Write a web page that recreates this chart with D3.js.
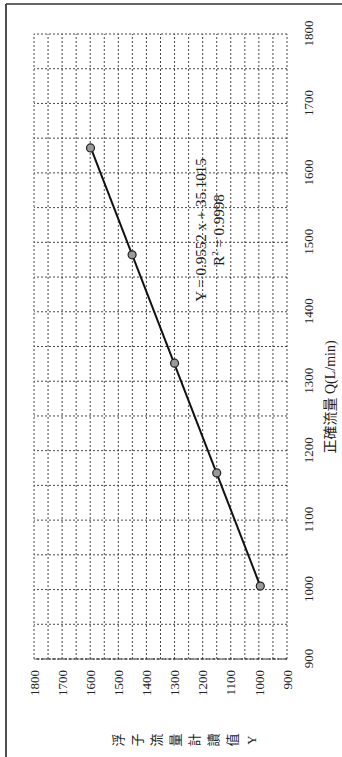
<!DOCTYPE html>
<html>
<head>
<meta charset="utf-8">
<script src="https://cdn.jsdelivr.net/npm/d3@7"></script>
<style>
  body { margin: 0; background: #fff; }
  text { font-family: "Liberation Serif", "Noto Sans CJK TC", serif; fill: #222; }
</style>
</head>
<body>
<div id="chart"></div>
<script>
const trueFlow = [1005, 1168, 1326, 1482, 1636];     // Q (L/min)
const meterReading = [995, 1150, 1300, 1451, 1599];  // Y
const xTicks = [900, 1000, 1100, 1200, 1300, 1400, 1500, 1600, 1700, 1800];
const yTicks = [900, 1000, 1100, 1200, 1300, 1400, 1500, 1600, 1700, 1800];
const slope = 0.9552;
const intercept = 35.1015;
const rSquared = 0.9998;
const xTitle = "正確流量 Q(L/min)";
const yTitle = ["浮", "子", "流", "量", "計", "讀", "值", "Y"];

const width = 342;
const height = 757;

const svg = d3.select("#chart")
  .append("svg")
  .attr("width", width)
  .attr("height", height);

// page frame from the scan
svg.append("line").attr("x1", 6).attr("y1", 4).attr("x2", 6).attr("y2", height)
  .attr("stroke", "#222").attr("stroke-width", 1.6);
svg.append("line").attr("x1", 6).attr("y1", 4).attr("x2", width).attr("y2", 4)
  .attr("stroke", "#333").attr("stroke-width", 1.4);

// chart was printed sideways, so draw it upright and turn the group
const g = svg.append("g")
  .attr("transform", `translate(0,${height}) rotate(-90)`);

const x = d3.scaleLinear().domain([900, 1800]).range([98, 723]);
const y = d3.scaleLinear().domain([900, 1800]).range([287, 34]);

// dotted grid every 50
const grid = g.append("g").attr("stroke", "#333").attr("stroke-width", 0.9)
  .attr("stroke-dasharray", "2,2");
grid.selectAll(".vx")
  .data(x.ticks(18))
  .enter()
  .append("line")
  .attr("x1", (d) => x(d)).attr("x2", (d) => x(d))
  .attr("y1", y(900)).attr("y2", y(1800));
grid.selectAll(".hy")
  .data(y.ticks(18))
  .enter()
  .append("line")
  .attr("x1", x(900)).attr("x2", x(1800))
  .attr("y1", (d) => y(d)).attr("y2", (d) => y(d));

// y axis line a bit heavier
g.append("line")
  .attr("x1", x(900)).attr("x2", x(900))
  .attr("y1", y(900)).attr("y2", y(1800))
  .attr("stroke", "#222").attr("stroke-width", 1.2)
  .attr("stroke-dasharray", "4,1.5");

const xAxis = g.append("g")
  .attr("transform", `translate(0,${y(900)})`)
  .call(d3.axisBottom(x).tickValues(xTicks).tickFormat(d3.format("d")).tickSize(0).tickPadding(17));
const yAxis = g.append("g")
  .attr("transform", `translate(${x(900)},0)`)
  .call(d3.axisLeft(y).tickValues(yTicks).tickFormat(d3.format("d")).tickSize(0).tickPadding(11));
[xAxis, yAxis].forEach((a) => {
  a.select(".domain").remove();
  a.selectAll("text")
    .style("font-family", "Liberation Serif")
    .style("font-size", "13px")
    .style("fill", "#222");
});

// fitted line between the first and last point
const xMin = d3.min(trueFlow);
const xMax = d3.max(trueFlow);
g.append("line")
  .attr("x1", x(xMin)).attr("y1", y(slope * xMin + intercept))
  .attr("x2", x(xMax)).attr("y2", y(slope * xMax + intercept))
  .attr("stroke", "#111")
  .attr("stroke-width", 2);

g.selectAll(".pt")
  .data(trueFlow)
  .enter()
  .append("circle")
  .attr("cx", (d) => x(d))
  .attr("cy", (d, i) => y(meterReading[i]))
  .attr("r", 4)
  .attr("fill", "#999")
  .attr("stroke", "#222")
  .attr("stroke-width", 1.2);

// regression text
g.append("text")
  .attr("x", 527).attr("y", 206)
  .attr("text-anchor", "middle")
  .style("font-size", "15px")
  .text(`Y = ${slope} x + ${intercept}`);
g.append("text")
  .attr("x", 527).attr("y", 224)
  .attr("text-anchor", "middle")
  .style("font-size", "15px")
  .html(`R<tspan dy="-6" font-size="9">2</tspan><tspan dy="6"> = ${rSquared}</tspan>`);

// axis titles
g.append("text")
  .attr("x", 360).attr("y", 335)
  .attr("text-anchor", "middle")
  .style("font-size", "14px")
  .text(xTitle);

g.selectAll(".yt")
  .data(yTitle)
  .enter()
  .append("text")
  .attr("x", 17)
  .attr("y", (d, i) => 123 + i * 19)
  .attr("text-anchor", "middle")
  .style("font-size", "13px")
  .text((d) => d);
</script>
</body>
</html>
